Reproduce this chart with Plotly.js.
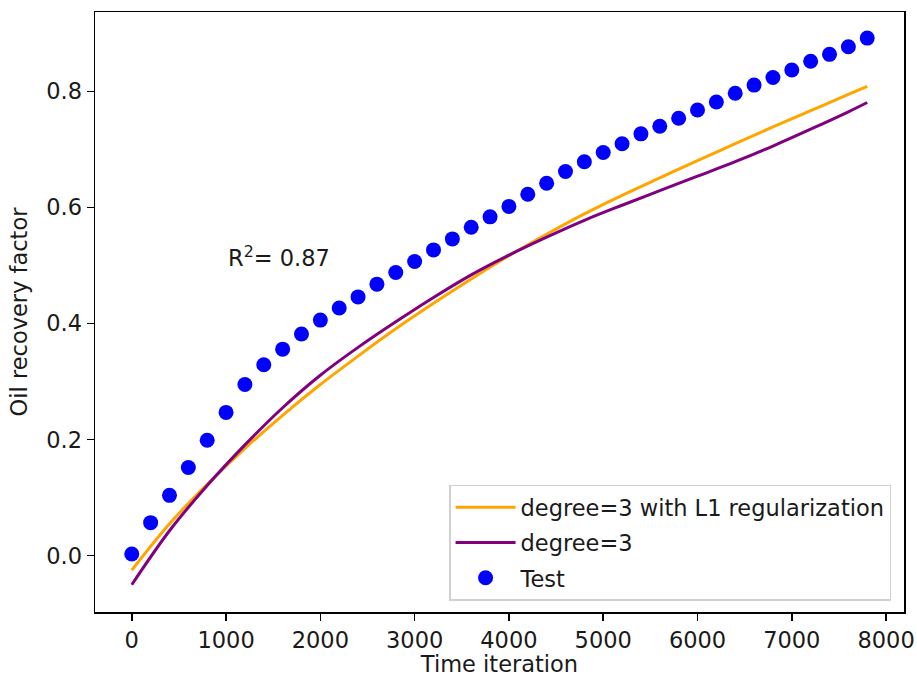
<!DOCTYPE html>
<html>
<head>
<meta charset="utf-8">
<script src="https://cdn.plot.ly/plotly-3.0.1.min.js"></script>
<style>html,body{margin:0;padding:0;background:#fff;}#chart{width:917px;height:677px;}</style>
</head>
<body>
<div id="chart"></div>
<script>
// Test data (time iteration vs oil recovery factor)
const testX = [0,200,400,600,800,1000,1200,1400,1600,1800,2000,2200,2400,2600,2800,3000,3200,3400,3600,3800,4000,4200,4400,4600,4800,5000,5200,5400,5600,5800,6000,6200,6400,6600,6800,7000,7200,7400,7600,7800];
const testY = [0.003,0.057,0.104,0.152,0.199,0.247,0.295,0.329,0.356,0.382,0.406,0.427,0.446,0.468,0.488,0.507,0.527,0.546,0.566,0.584,0.602,0.623,0.642,0.662,0.679,0.695,0.710,0.727,0.740,0.754,0.768,0.782,0.797,0.811,0.824,0.837,0.852,0.864,0.877,0.892];

// Fitted curves
const fitX = [0,400,800,1200,1600,2000,2400,2800,3200,3600,4000,4400,4800,5200,5600,6000,6400,6800,7200,7600,7800];
const l1Y = [-0.025,0.055,0.123,0.185,0.242,0.295,0.344,0.391,0.435,0.477,0.517,0.554,0.589,0.621,0.651,0.681,0.710,0.739,0.767,0.795,0.809];
const deg3Y = [-0.050,0.043,0.121,0.191,0.255,0.311,0.359,0.403,0.445,0.484,0.518,0.549,0.578,0.604,0.629,0.654,0.679,0.706,0.735,0.765,0.781];

const xTicks = [0,1000,2000,3000,4000,5000,6000,7000,8000];
const yTicks = [0.0,0.2,0.4,0.6,0.8];

const FONT = 'DejaVu Sans, sans-serif';
const FS = 22.5;
const TXT = '#1a1a1a';

const traces = [
  {x: fitX, y: l1Y, mode: 'lines', name: 'degree=3 with L1 regularization',
   line: {color: 'orange', width: 3, shape: 'spline'}, legendgroup: 'a'},
  {x: fitX, y: deg3Y, mode: 'lines', name: 'degree=3',
   line: {color: 'purple', width: 3, shape: 'spline'}, legendgroup: 'b'},
  {x: testX, y: testY, mode: 'markers', name: 'Test',
   marker: {color: 'blue', size: 15}, legendgroup: 'c'}
];

const axisCommon = {
  showline: true, mirror: true, linecolor: '#000', linewidth: 1.5,
  ticks: 'outside', ticklen: 7, tickwidth: 1.5, tickcolor: '#000',
  showgrid: false, zeroline: false,
  tickfont: {family: FONT, size: FS, color: TXT}
};

const layout = {
  width: 917, height: 677,
  margin: {l: 95, r: 13, t: 12, b: 65},
  paper_bgcolor: '#fff', plot_bgcolor: '#fff',
  font: {family: FONT, size: FS, color: TXT},
  xaxis: Object.assign({}, axisCommon, {
    range: [-390, 8190], tickmode: 'array', tickvals: xTicks,
    ticktext: xTicks.map(String),
    title: {text: 'Time iteration', font: {family: FONT, size: FS, color: TXT}, standoff: 3}
  }),
  yaxis: Object.assign({}, axisCommon, {
    range: [-0.097, 0.937], tickmode: 'array', tickvals: yTicks,
    ticktext: yTicks.map(v => v.toFixed(1)),
    title: {text: 'Oil recovery factor', font: {family: FONT, size: FS, color: TXT}, standoff: 12}
  }),
  legend: {
    x: 0.984, y: 0.019, xanchor: 'right', yanchor: 'bottom',
    bgcolor: 'rgba(255,255,255,0.8)', bordercolor: '#d0d0d0', borderwidth: 1.5,
    font: {family: FONT, size: FS, color: TXT},
    tracegroupgap: 3, itemwidth: 60
  },
  annotations: [{
    x: 1000, y: 0.5, xref: 'x', yref: 'y', xanchor: 'left', yanchor: 'bottom',
    yshift: -7,
    text: 'R<sup>2</sup>= 0.87', showarrow: false,
    font: {family: FONT, size: FS, color: TXT}
  }],
  showlegend: true
};

Plotly.newPlot('chart', traces, layout, {displayModeBar: false, staticPlot: true});
</script>
</body>
</html>
